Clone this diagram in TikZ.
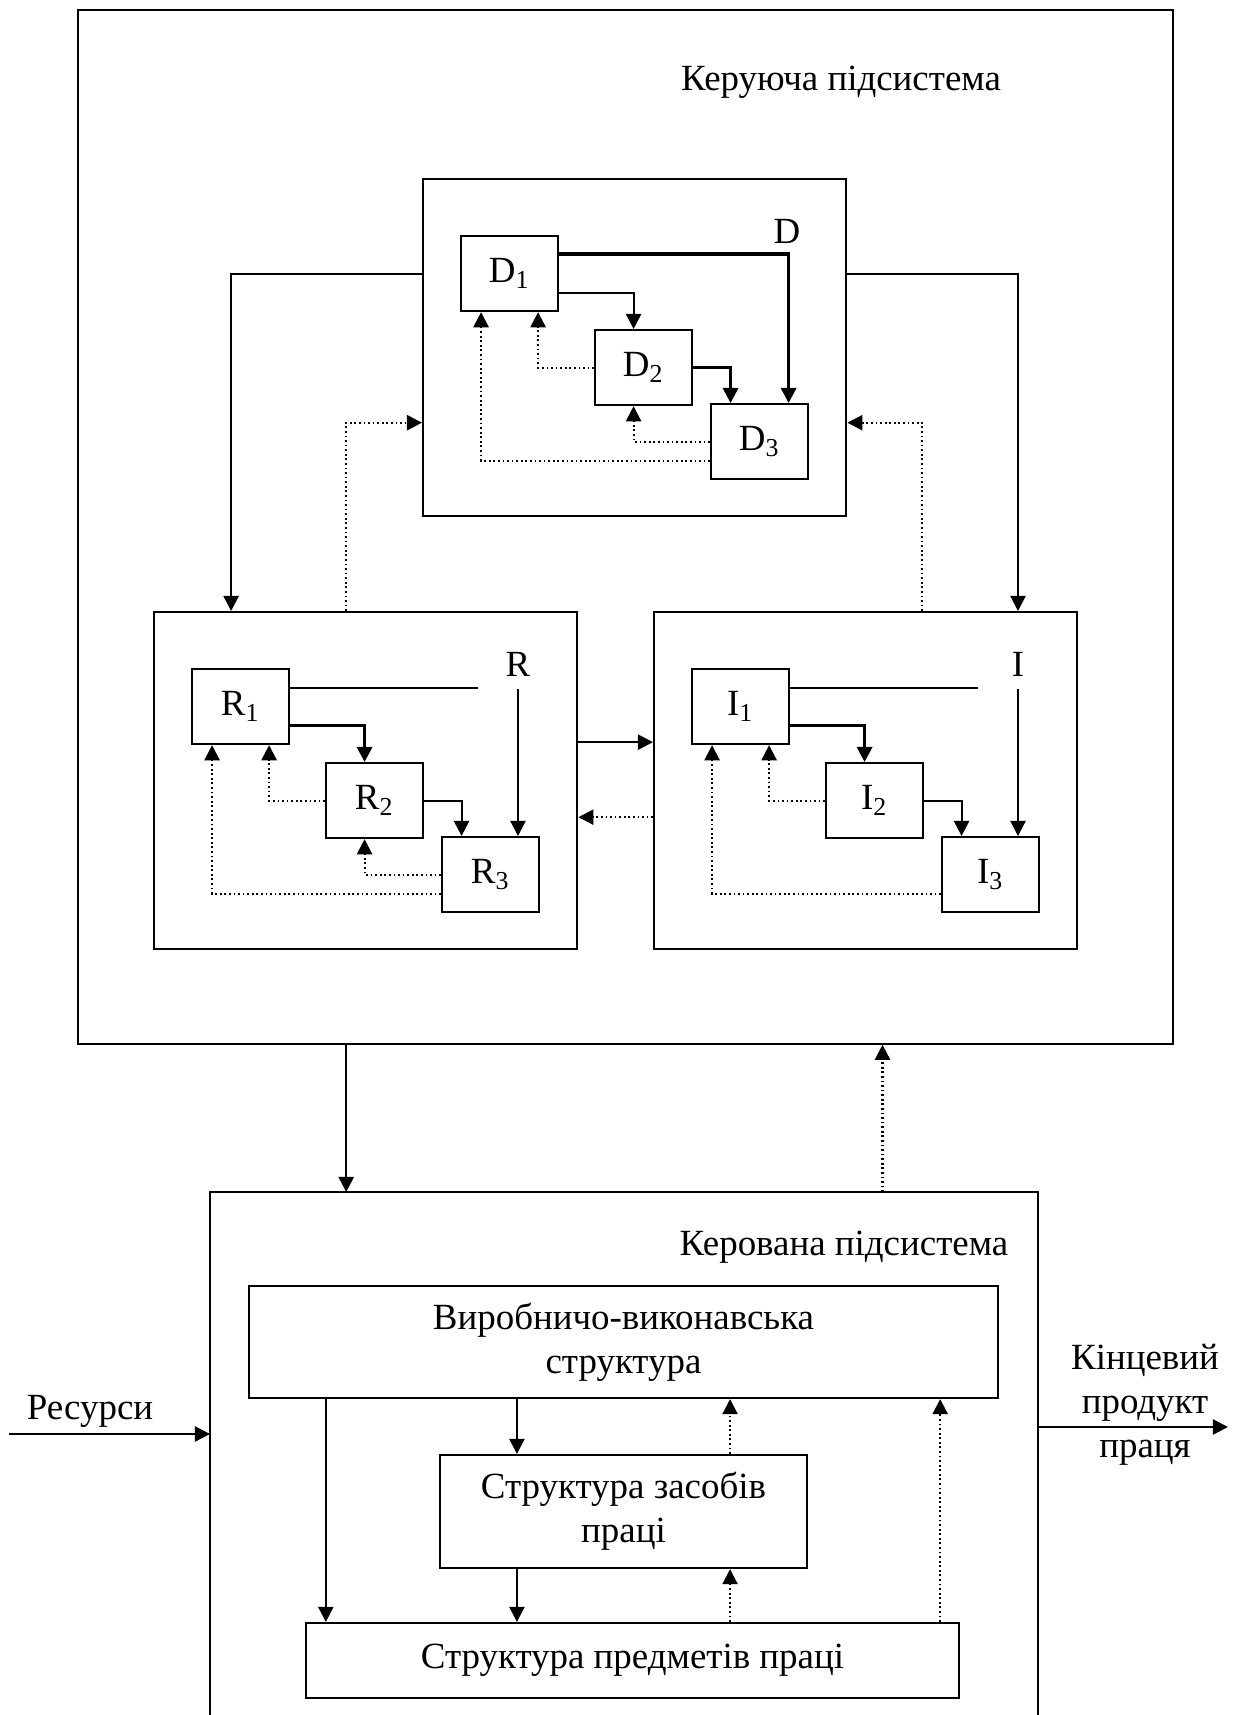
\documentclass[tikz,border=0pt]{standalone}
\usepackage{fontspec}
\setmainfont{Liberation Serif}
\usetikzlibrary{arrows.meta}

\begin{document}
\begin{tikzpicture}[x=0.01cm,y=-0.01cm,
        font=\fontsize{10.5}{12.5}\selectfont,
        frame/.style={draw,line width=0.6pt,inner sep=0pt},
        blk/.style={frame,anchor=north west,minimum width=4.23cm,minimum height=3.37cm},
        sub/.style={frame,anchor=north west,minimum width=0.97cm,minimum height=0.75cm},
        fwd/.style={line width=0.6pt,-{Triangle[length=4.3pt,width=4.3pt]}},
        fb/.style={line width=0.6pt,dash pattern=on 0.5pt off 0.8pt,-{Triangle[length=4.3pt,width=4.3pt]}}]
        \useasboundingbox (0,0) rectangle (1234,1715);
        % upper part
        \node[frame,anchor=north west,minimum width=10.94cm,minimum height=10.33cm] (ctrl) at (77,9) {};
        \node (ctrlL) at (841,82) {Керуюча підсистема};
        \foreach \s/\x/\y/\wa/\wb in {D/422/178/0.6/0.9, R/153/611/0.9/0.6, I/653/611/0.9/0.6} {
            \node[blk] (box\s) at (\x,\y) {};
            \node[sub] (\s1) at (\x+38,\y+57) {\s\textsubscript{1}};
            \node[sub] (\s2) at (\x+172,\y+151) {\s\textsubscript{2}};
            \node[sub] (\s3) at (\x+288,\y+225) {\s\textsubscript{3}};
            \node (lab\s) at (\x+365,\y+53) {\s};
            \draw[fwd,line width=\wa pt] ([yshift=-0.19cm]\s1.east) -| ([xshift=-0.1cm]\s2.north);
            \draw[fwd,line width=\wb pt] (\s2.east) -| ([xshift=-0.29cm]\s3.north);
            \draw[fb] (\s2.west) -| ([xshift=0.285cm]\s1.south);
            \draw[fb] ([yshift=-0.19cm]\s3.west) -| ([xshift=-0.285cm]\s1.south);
        }
        \draw[fwd,line width=0.9pt] ([yshift=0.195cm]D1.east) -| ([xshift=0.29cm]D3.north);
        \draw[fb] (D3.west) -| ([xshift=-0.1cm]D2.south);
        \draw[fb] (R3.west) -| ([xshift=-0.1cm]R2.south);
        \foreach \s in {R,I} {
            \draw[line width=0.6pt] ([yshift=0.19cm]\s1.east) -- ([xshift=-0.4cm,yshift=0.19cm]\s1.east -| lab\s.south);
            \draw[fwd] (lab\s.south) -- (lab\s.south |- \s3.north);
        }
        % links between blocks
        \draw[fwd] ([yshift=0.74cm]boxD.west) -| ([xshift=-1.345cm]boxR.north);
        \draw[fwd] ([yshift=0.74cm]boxD.east) -| (labI |- boxI.north);
        \draw[fb] ([xshift=-0.195cm]boxR.north) |- ([yshift=-0.75cm]boxD.west);
        \draw[fb] ([xshift=0.565cm]boxI.north) |- ([yshift=-0.75cm]boxD.east);
        \draw[fwd] ([yshift=0.385cm]boxR.east) -- ([yshift=0.385cm]boxI.west);
        \draw[fb] ([yshift=-0.365cm]boxI.west) -- ([yshift=-0.365cm]boxR.east);
        % lower part
        \node[inner sep=0pt,anchor=north west,minimum width=8.26cm,minimum height=5.23cm] (mng) at (210,1192) {};
        \draw[line width=0.6pt] (mng.south west) -- (mng.north west) -- (mng.north east) -- (mng.south east);
        \node (mngL) at (844,1247) {Керована підсистема};
        \draw[fwd] ([xshift=-2.79cm]ctrl.south) -- ([xshift=-2.79cm]ctrl.south |- mng.north);
        \draw[fb] ([xshift=2.57cm]ctrl.south |- mng.north) -- ([xshift=2.57cm]ctrl.south);
        \node[frame,minimum width=7.49cm,minimum height=1.12cm,align=center] (prod) at (623.5,1342) {Виробничо-виконавська\\структура};
        \node[frame,minimum width=3.67cm,minimum height=1.13cm,align=center] (tools) at (623.5,1511.5) {Структура засобів\\праці};
        \node[frame,minimum width=6.53cm,minimum height=0.75cm] (objs) at (632.5,1660.5) {Структура предметів праці};
        \draw[fwd] ([xshift=-2.975cm]prod.south) -- ([xshift=-2.975cm]prod.south |- objs.north);
        \draw[fwd] ([xshift=-1.065cm]prod.south) -- ([xshift=-1.065cm]tools.north);
        \draw[fwd] ([xshift=-1.065cm]tools.south) -- ([xshift=-1.065cm]tools.south |- objs.north);
        \draw[fb] ([xshift=1.065cm]tools.north) -- ([xshift=1.065cm]prod.south);
        \draw[fb] ([xshift=1.065cm]tools.south |- objs.north) -- ([xshift=1.065cm]tools.south);
        \draw[fb] ([xshift=3.165cm]prod.south |- objs.north) -- ([xshift=3.165cm]prod.south);
        % input and output
        \node (res) at (90,1411) {Ресурси};
        \coordinate (resin) at (9,1434);
        \draw[fwd] (resin) -- (resin -| mng.west);
        \node[align=center] (out) at (1145,1405) {Кінцевий\\продукт\\праця};
        \coordinate (outend) at (1228,1427);
        \draw[fwd] (outend -| mng.east) -- (outend);
\end{tikzpicture}
\end{document}
